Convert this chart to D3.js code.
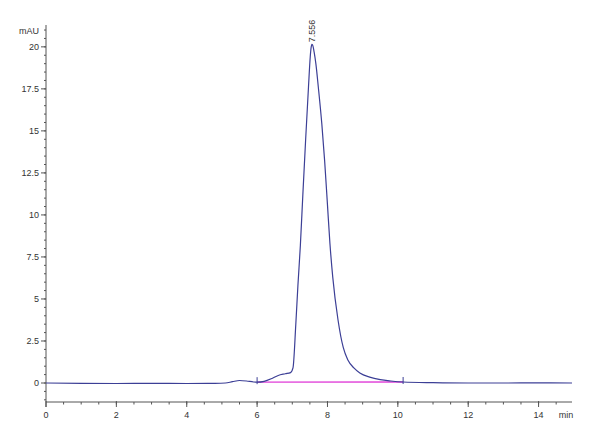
<!DOCTYPE html>
<html>
<head>
<meta charset="utf-8">
<script src="https://cdn.jsdelivr.net/npm/d3@7"></script>
<style>
  body { margin: 0; background: #fff; }
  svg { display: block; font-family: "Liberation Sans", Arial, sans-serif; }
</style>
</head>
<body>
<svg id="chart"></svg>
<script>
// chromatogram trace (min, mAU)
var times = [0, 1, 2, 3, 4, 4.8, 5.1, 5.3, 5.5, 5.7, 5.9, 6.0, 6.2, 6.4, 6.6, 6.8, 6.95,
  7.02, 7.1, 7.16, 7.23, 7.3, 7.38, 7.46, 7.51, 7.535, 7.556, 7.58, 7.62, 7.67, 7.74, 7.84, 7.92,
  8.0, 8.07, 8.15, 8.3, 8.45, 8.58, 8.75, 8.92, 9.2, 9.5, 9.8, 10.15, 11, 12, 13, 14, 14.95]
var signal = [0, -0.02, -0.03, -0.02, -0.03, -0.02, 0.0, 0.08, 0.15, 0.12, 0.06, 0.05, 0.1, 0.25, 0.45, 0.55, 0.62,
  0.9, 3.5, 5.8, 8.2, 11.2, 14.5, 17.6, 19.4, 19.95, 20.15, 20.1, 19.7, 19.0, 17.6, 15.4, 13.2,
  10.6, 8.3, 6.3, 3.75, 2.1, 1.37, 0.9, 0.6, 0.35, 0.2, 0.12, 0.06, 0.02, 0.0, 0.0, 0.01, 0.0]

// integration baseline and peak label
var baseTimes = [6.0, 10.15]
var baseValues = [0.05, 0.06]
var peakTime = 7.556
var peakValue = 20.15
var peakLabel = "7.556"

var xTicks = [0, 2, 4, 6, 8, 10, 12, 14]
var yTicks = [0, 2.5, 5, 7.5, 10, 12.5, 15, 17.5, 20]

var width = 600,
  height = 440

var svg = d3.select("#chart")
  .attr("width", width)
  .attr("height", height)

var x = d3.scaleLinear().domain([0, 14.95]).range([46, 572])
var y = d3.scaleLinear().domain([-1.13, 21.3]).range([402, 25])

var trace = times.map(function (t, i) {
  return { t: t, v: signal[i] }
})

/*
 * Axes
 */

var ink = "#555"

// y axis
svg.append("line")
  .attr("x1", x(0)).attr("x2", x(0))
  .attr("y1", y.range()[1]).attr("y2", y.range()[0] + 5)
  .attr("stroke", ink)

svg.selectAll("line.yminor")
  .data(d3.range(-1, 21.01, 0.5))
  .enter()
  .append("line")
  .attr("class", "yminor")
  .attr("x1", x(0) - 2).attr("x2", x(0))
  .attr("y1", function (d) { return y(d) })
  .attr("y2", function (d) { return y(d) })
  .attr("stroke", ink)

var yMajor = svg.selectAll("g.ymajor")
  .data(yTicks)
  .enter()
  .append("g")
  .attr("class", "ymajor")
  .attr("transform", function (d) { return "translate(0," + y(d) + ")" })

yMajor.append("line")
  .attr("x1", x(0) - 5).attr("x2", x(0))
  .attr("stroke", ink)

yMajor.append("text")
  .attr("x", x(0) - 7)
  .attr("dy", "0.35em")
  .attr("text-anchor", "end")
  .attr("font-size", 9)
  .attr("fill", "#333")
  .text(function (d) { return d })

svg.append("text")
  .attr("x", x(0) - 7).attr("y", 34)
  .attr("text-anchor", "end")
  .attr("font-size", 9)
  .attr("fill", "#333")
  .text("mAU")

// x axis
svg.append("line")
  .attr("x1", x(0)).attr("x2", x(14.95))
  .attr("y1", y(-1.13)).attr("y2", y(-1.13))
  .attr("stroke", ink)

svg.selectAll("line.xminor")
  .data(d3.range(0.5, 14.6, 0.5))
  .enter()
  .append("line")
  .attr("class", "xminor")
  .attr("x1", function (d) { return x(d) })
  .attr("x2", function (d) { return x(d) })
  .attr("y1", y(-1.13)).attr("y2", y(-1.13) + 2.5)
  .attr("stroke", ink)

var xMajor = svg.selectAll("g.xmajor")
  .data(xTicks)
  .enter()
  .append("g")
  .attr("class", "xmajor")
  .attr("transform", function (d) { return "translate(" + x(d) + "," + y(-1.13) + ")" })

xMajor.append("line")
  .attr("y1", -1).attr("y2", 5)
  .attr("stroke", ink)

xMajor.append("text")
  .attr("y", 16)
  .attr("text-anchor", "middle")
  .attr("font-size", 9)
  .attr("fill", "#333")
  .text(function (d) { return d })

svg.append("text")
  .attr("x", 566).attr("y", y(-1.13) + 16)
  .attr("text-anchor", "middle")
  .attr("font-size", 9)
  .attr("fill", "#333")
  .text("min")

/*
 * Trace
 */

// integration baseline
svg.append("line")
  .attr("x1", x(baseTimes[0])).attr("x2", x(baseTimes[1]))
  .attr("y1", y(baseValues[0])).attr("y2", y(baseValues[1]))
  .attr("stroke", "#e040d8")
  .attr("stroke-width", 1.4)

var line = d3.line()
  .x(function (d) { return x(d.t) })
  .y(function (d) { return y(d.v) })
  .curve(d3.curveMonotoneX)

svg.append("path")
  .datum(trace)
  .attr("d", line)
  .attr("fill", "none")
  .attr("stroke", "#3c3f96")
  .attr("stroke-width", 1.2)

// integration start / end marks
svg.selectAll("line.mark")
  .data(baseTimes)
  .enter()
  .append("line")
  .attr("class", "mark")
  .attr("x1", function (d) { return x(d) })
  .attr("x2", function (d) { return x(d) })
  .attr("y1", function (d, i) { return y(baseValues[i]) - 5 })
  .attr("y2", function (d, i) { return y(baseValues[i]) + 2 })
  .attr("stroke", "#3c3f96")

// peak label
svg.append("text")
  .attr("transform", "translate(" + (x(peakTime) + 3) + "," + (y(peakValue) - 2) + ") rotate(-90)")
  .attr("font-size", 9)
  .attr("fill", "#333")
  .text(peakLabel)
</script>
</body>
</html>
